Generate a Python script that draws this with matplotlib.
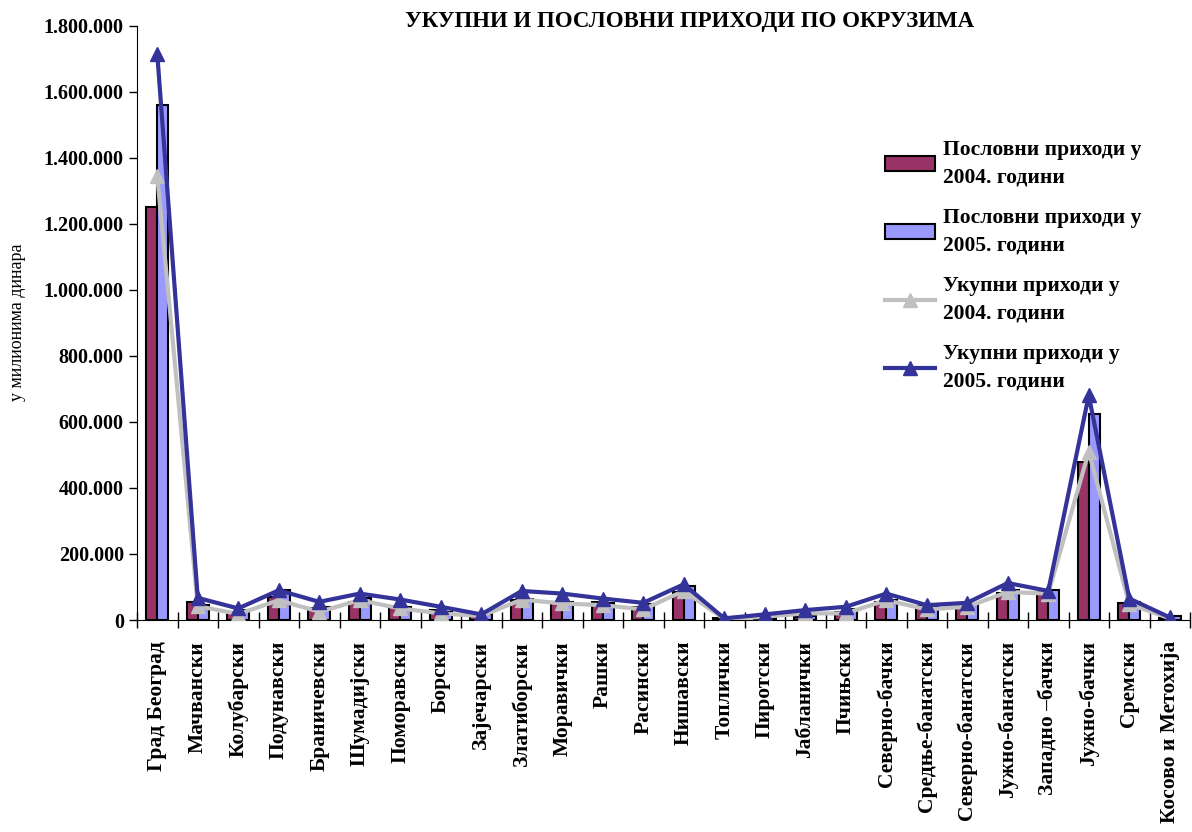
import numpy as np
import matplotlib
matplotlib.use("Agg")
import matplotlib.pyplot as plt
from matplotlib.ticker import FuncFormatter, FixedLocator

plt.rcParams['font.family'] = ['Liberation Serif', 'DejaVu Serif']

# okruzi
okruzi = ["Град Београд", "Мачвански", "Колубарски", "Подунавски", "Браничевски",
          "Шумадијски", "Поморавски", "Борски", "Зајечарски", "Златиборски",
          "Моравички", "Рашки", "Расински", "Нишавски", "Топлички", "Пиротски",
          "Јабланички", "Пчињски", "Северно-бачки", "Средње-банатски",
          "Северно-банатски", "Јужно-банатски", "Западно –бачки", "Јужно-бачки",
          "Сремски", "Косово и Метохија"]

# u hiljadama (milioni dinara / 1000)
poslovni_2004 = [1250, 55, 25, 70, 35, 55, 43, 30, 18, 60, 55, 55, 40, 85, 5,
                 8, 10, 25, 55, 42, 40, 82, 85, 480, 50, 5]
poslovni_2005 = [1560, 45, 30, 92, 40, 68, 40, 25, 18, 65, 55, 50, 47, 102, 3,
                 5, 12, 32, 62, 40, 47, 90, 90, 625, 55, 12]
ukupni_2004 = [1345, 42, 18, 60, 25, 60, 35, 20, 12, 62, 50, 45, 32, 88, 3,
               10, 20, 20, 60, 32, 40, 85, 80, 510, 48, 5]
ukupni_2005 = [1715, 67, 35, 90, 55, 80, 62, 40, 17, 88, 80, 65, 52, 108, 5,
               17, 30, 40, 80, 45, 52, 112, 88, 680, 65, 8]

p04 = np.array(poslovni_2004) * 1000
p05 = np.array(poslovni_2005) * 1000
u04 = np.array(ukupni_2004) * 1000
u05 = np.array(ukupni_2005) * 1000

x = np.arange(len(okruzi))
w = 0.27

fig = plt.figure(figsize=(11.92, 8.32), dpi=100)
ax = fig.add_axes([137/1192, 1 - 620/832, 1053/1192, (620 - 25.7)/832])

b1 = ax.bar(x - w/2, p04, w, color="#993366", edgecolor="black", linewidth=1.5,
            label="Пословни приходи у\n2004. години", zorder=2)
b2 = ax.bar(x + w/2, p05, w, color="#9999FF", edgecolor="black", linewidth=1.5,
            label="Пословни приходи у\n2005. години", zorder=2)
l1, = ax.plot(x, u04, color="#C0C0C0", lw=3, marker="^", ms=10,
              label="Укупни приходи у\n2004. години", zorder=3)
l2, = ax.plot(x, u05, color="#333399", lw=3, marker="^", ms=10,
              label="Укупни приходи у\n2005. години", zorder=4)

ax.set_xlim(-0.5, len(okruzi) - 0.5)
ax.set_ylim(0, 1800000)
ax.set_yticks(np.arange(0, 1800001, 200000))
ax.yaxis.set_major_formatter(FuncFormatter(lambda v, p: f"{int(v):,}".replace(",", ".")))

ax.set_xticks(x)
ax.set_xticklabels(okruzi, rotation=90, fontsize=15.5, fontweight="bold")
ax.xaxis.set_minor_locator(FixedLocator(np.arange(-0.5, len(okruzi), 1)))
ax.tick_params(axis="x", which="major", length=0, pad=15)
ax.tick_params(axis="x", which="minor", direction="inout", length=12, width=1)
ax.tick_params(axis="y", direction="out", length=6, width=1, labelsize=14.5)
for t in ax.get_yticklabels():
    t.set_fontweight("bold")

for s in ["top", "right"]:
    ax.spines[s].set_visible(False)

fig.text(18/1192, 1 - 322/832, "у милионима динара", rotation=90,
         ha="center", va="center", fontsize=13)
fig.text(690/1192, 1 - 22/832, "УКУПНИ И ПОСЛОВНИ ПРИХОДИ ПО ОКРУЗИМА",
         ha="center", va="center", fontsize=16.5, fontweight="bold")

leg = ax.legend(handles=[b1, b2, l1, l2],
                loc="upper left", bbox_to_anchor=(885/1192, 1 - 140/832),
                bbox_transform=fig.transFigure, frameon=False, borderpad=0,
                borderaxespad=0, handlelength=2.3, handletextpad=0.4,
                labelspacing=0.95, prop={"size": 15.5, "weight": "bold"})
for t in leg.get_texts():
    t.set_linespacing(1.5)

fig.savefig("out.png", dpi=100)
